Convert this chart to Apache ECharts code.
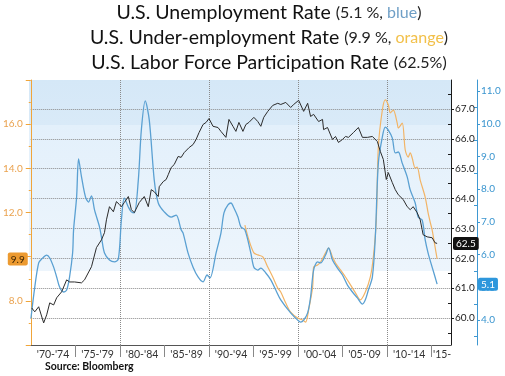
<!DOCTYPE html>
<html>
<head>
<meta charset="utf-8">
<script src="https://cdn.jsdelivr.net/npm/echarts@6/dist/echarts.min.js"></script>
<style>
html, body { margin: 0; padding: 0; background: #fff; }
#chart { width: 505px; height: 376px; }
</style>
</head>
<body>
<div id="chart"></div>
<script>
// unemployment rate, blue, outer right axis
const unempYears = [1970.02,1970.45,1970.89,1971.23,1971.79,1972.13,1972.57,1972.91,1973.24,1973.69,1974.03,1974.36,1974.70,1974.81,1975.15,1975.37,1975.70,1976.15,1976.49,1976.82,1977.16,1977.72,1977.94,1978.28,1978.84,1979.40,1979.84,1980.18,1980.51,1980.96,1981.30,1981.63,1982.08,1982.42,1982.86,1983.31,1983.87,1984.32,1984.99,1985.77,1986.33,1986.89,1987.11,1987.67,1988.23,1988.79,1989.35,1989.80,1990.13,1990.81,1991.36,1991.70,1992.15,1992.48,1992.82,1993.27,1993.60,1994.05,1994.72,1995.06,1995.50,1995.84,1996.40,1996.96,1997.52,1998.08,1999.19,1999.98,2000.31,2000.65,2001.10,2001.43,2001.77,2002.21,2002.55,2003.11,2003.45,2003.89,2004.45,2005.01,2005.57,2006.13,2006.69,2007.25,2007.58,2007.92,2008.37,2008.70,2009.04,2009.49,2009.82,2010.16,2010.60,2010.94,2011.28,2011.72,2012.28,2012.62,2013.18,2013.51,2013.96,2014.30,2014.63,2015.08,2015.41,2015.64];
const unempValues = [4.05,5.01,5.75,5.87,5.99,5.90,5.62,5.32,5.01,4.86,4.92,5.32,6.05,6.76,7.76,8.93,8.38,7.76,7.61,7.80,7.37,6.85,6.54,6.05,5.84,5.78,5.87,7.06,7.73,7.46,7.31,7.28,8.28,9.81,10.70,10.12,8.28,7.58,7.31,7.15,7.21,6.76,6.66,6.05,5.62,5.32,5.17,5.38,5.29,6.05,6.66,7.28,7.52,7.58,7.43,7.15,6.85,6.76,6.05,5.62,5.53,5.59,5.44,5.23,4.92,4.62,4.22,4.00,3.94,4.00,4.22,4.71,5.53,5.78,5.75,5.99,6.21,5.84,5.59,5.38,5.07,4.86,4.68,4.49,4.62,4.92,5.32,6.54,8.80,9.60,9.90,9.81,9.57,9.11,9.14,8.80,8.38,7.98,7.58,7.15,7.06,6.45,6.05,5.62,5.32,5.10];

// under-employment (U-6), orange, left axis
const u6Years = [1994.05,1994.50,1995.06,1995.50,1996.06,1996.62,1997.18,1997.74,1998.08,1998.64,1999.19,1999.98,2000.54,2000.87,2001.21,2001.66,2001.77,2002.21,2002.55,2003.11,2003.45,2003.89,2004.23,2004.79,2005.35,2005.91,2006.47,2007.02,2007.58,2008.14,2008.48,2008.81,2009.04,2009.49,2009.82,2010.16,2010.38,2010.72,2011.16,2011.28,2011.72,2012.06,2012.39,2012.62,2012.84,2013.18,2013.40,2013.74,2014.30,2014.63,2014.86,2015.08,2015.41,2015.64];
const u6Values = [11.43,10.76,10.17,10.08,9.99,9.53,9.08,8.58,8.40,7.90,7.49,7.22,7.13,7.04,7.59,8.63,9.53,9.62,9.76,10.17,10.39,9.99,9.71,9.40,9.08,8.72,8.36,8.04,8.40,9.08,9.99,11.66,14.97,16.64,17.10,16.87,16.51,16.64,16.05,15.83,16.05,14.83,14.51,14.70,14.47,14.02,14.06,13.47,12.70,11.98,11.57,11.21,10.44,9.90];

// labor force participation, black, inner right axis
const lfprYears = [1970.11,1970.45,1970.89,1971.45,1971.79,1972.13,1972.57,1972.91,1973.47,1974.03,1974.36,1974.92,1975.70,1976.04,1976.82,1977.38,1977.94,1978.28,1978.50,1978.84,1979.28,1979.62,1979.96,1980.18,1980.51,1980.96,1981.30,1981.63,1982.19,1982.75,1983.20,1983.53,1983.87,1984.32,1984.43,1984.88,1985.21,1985.44,1985.77,1986.11,1986.55,1986.89,1987.23,1987.79,1988.23,1988.57,1988.90,1989.35,1989.69,1990.02,1990.47,1991.03,1991.36,1991.92,1992.26,1992.71,1993.04,1993.38,1993.83,1994.16,1994.50,1995.06,1995.50,1995.84,1996.17,1996.62,1997.18,1997.74,1998.08,1998.64,1999.19,1999.53,2000.09,2000.65,2001.10,2001.43,2001.77,2002.33,2002.77,2002.89,2003.33,2003.89,2004.23,2004.56,2005.01,2005.35,2005.68,2006.24,2006.80,2007.25,2007.81,2008.37,2008.93,2009.26,2009.60,2009.93,2010.16,2010.60,2010.94,2011.28,2011.83,2012.28,2012.62,2012.95,2013.40,2013.74,2013.96,2014.07,2014.52,2015.08,2015.41,2015.64];
const lfprValues = [60.34,60.21,60.38,59.84,60.11,60.51,60.44,60.68,60.88,61.28,61.21,61.21,61.18,61.28,61.72,62.36,62.62,62.86,63.29,63.73,63.56,63.90,63.80,63.73,63.87,64.07,63.63,63.53,63.87,64.07,63.73,64.30,64.23,64.07,64.40,64.57,64.64,64.80,65.04,65.14,65.41,65.38,65.54,65.71,65.81,65.98,66.21,66.48,66.55,66.68,66.42,66.38,66.25,66.05,66.65,66.42,66.25,66.55,66.25,66.48,66.55,66.72,66.58,66.42,66.72,66.92,67.12,67.19,67.15,67.22,67.05,67.15,67.29,66.92,67.19,66.75,66.82,66.58,66.65,66.31,66.38,65.98,66.08,65.88,65.98,66.08,66.05,66.21,66.38,66.05,66.05,66.08,65.91,65.58,65.31,64.64,64.87,64.54,64.30,64.13,63.97,63.73,63.63,63.73,63.53,63.29,62.96,62.79,62.72,62.69,62.52,62.50];

// x axis: period separators and period labels
const xTickYears = [1975, 1980, 1985, 1990, 1995, 2000, 2005, 2010, 2015];
const xLabelYears = [1972.5, 1977.5, 1982.5, 1987.5, 1992.5, 1997.5, 2002.5, 2007.5, 2012.5, 2016.2];
const xLabels = ["'70-'74", "'75-'79", "'80-'84", "'85-'89", "'90-'94", "'95-'99", "'00-'04", "'05-'09", "'10-'14", "'15-"];

// y axis ticks and labels
const u6Labels = [8, 12, 14, 16];
const u6Ticks = [6, 8, 10, 12, 14, 16, 18];
const u6Minor = [7, 9, 11, 13, 15, 17];
const lfprTicks = [60, 61, 62, 63, 64, 65, 66, 67];
const lfprMinor = [59.5, 60.5, 61.5, 62.5, 63.5, 64.5, 65.5, 66.5, 67.5];
const unempTicks = [4, 5, 6, 7, 8, 9, 10, 11];
const unempMinor = [3.5, 4.5, 5.5, 6.5, 7.5, 8.5, 9.5, 10.5];

// latest readings shown as tags
const u6Last = 9.9;
const lfprLast = 62.5;
const unempLast = 5.1;

const ORANGE = '#f0a53a';
const BLUE = '#3e98d2';
const BLACK = '#1a1a1a';
const FONT = 'Lato';
const GRID_LINE = { color: '#8a8a8a', width: 1, type: 'dotted' };
const PLOT = { left: 29, top: 80, width: 422, height: 265 };

const pairs = (xs, ys) => xs.map((x, i) => [x, ys[i]]);

const chart = echarts.init(document.getElementById('chart'));

function yAxisBase(pos, offset, min, max, color) {
  return {
    type: 'value', position: pos, offset: offset, min: min, max: max,
    axisLine: { show: true, onZero: false, lineStyle: { color: color, width: 1 } },
    splitLine: { show: false },
    axisLabel: { show: false },
    axisTick: { show: false }
  };
}

function overlay(base, extra) {
  const a = Object.assign({}, base, extra);
  a.axisLine = { show: false };
  return a;
}

const u6Base = yAxisBase('left', 0, 6, 18, ORANGE);
const lfprBase = yAxisBase('right', 0, 59.1, 67.97, BLACK);
const unempBase = yAxisBase('right', 26, 3.24, 11.34, BLUE);

const labelStyle = (color) => ({ fontFamily: FONT, fontSize: 10, color: color });

const tag = (bg, fg) => ({
  t: { backgroundColor: bg, color: fg, fontFamily: FONT, fontSize: 10, padding: [2, 3, 1, 3], borderRadius: 2 }
});

chart.setOption({
  animation: false,
  graphic: [
    {
      // plot background bands
      type: 'rect', z: -10, silent: true,
      shape: { x: PLOT.left, y: PLOT.top, width: PLOT.width, height: PLOT.height },
      style: {
        fill: new echarts.graphic.LinearGradient(0, 0, 0, 1, [
          { offset: 0, color: '#d5e8f7' },
          { offset: 0.17, color: '#d9eaf8' },
          { offset: 0.171, color: '#e3f0fb' },
          { offset: 0.72, color: '#edf5fc' },
          { offset: 0.721, color: '#ffffff' },
          { offset: 1, color: '#ffffff' }
        ])
      }
    },
    {
      type: 'text', x: 269, y: 0, z: 10,
      style: {
        text: '{m|U.S. Unemployment Rate }{s|(5.1 %, }{b|blue}{s|)}\n' +
              '{m|U.S. Under-employment Rate }{s|(9.9 %, }{o|orange}{s|)}\n' +
              '{m|U.S. Labor Force Participation Rate }{s|(62.5%)}',
        align: 'center', verticalAlign: 'top',
        rich: {
          m: { fontFamily: FONT, fontSize: 19.5, fill: '#111', lineHeight: 25 },
          s: { fontFamily: FONT, fontSize: 16, fill: '#222', lineHeight: 25 },
          b: { fontFamily: FONT, fontSize: 16, fill: '#6f9fc6', lineHeight: 25 },
          o: { fontFamily: FONT, fontSize: 16, fill: '#f2c04a', lineHeight: 25 }
        }
      }
    },
    {
      type: 'text', x: 45, y: 361,
      style: { text: 'Source: Bloomberg', fontFamily: FONT, fontSize: 10.5, fontWeight: 'bold', fill: '#111' }
    }
  ],
  grid: {
    left: PLOT.left, top: PLOT.top, right: 505 - PLOT.left - PLOT.width, bottom: 376 - PLOT.top - PLOT.height,
    show: false
  },
  xAxis: [
    {
      // decade grid lines
      type: 'value', position: 'bottom', min: 1970, max: 2017.2, interval: 10,
      axisLine: { show: true, onZero: false, lineStyle: { color: '#555' } },
      axisTick: { show: false },
      axisLabel: { show: false },
      splitLine: { show: true, lineStyle: GRID_LINE }
    },
    {
      // five-year separators and period labels
      type: 'value', position: 'bottom', min: 1970, max: 2017.2,
      axisLine: { show: false },
      splitLine: { show: false },
      axisTick: { show: true, customValues: xTickYears, length: 12, lineStyle: { color: '#888' } },
      axisLabel: {
        show: true, customValues: xLabelYears, margin: 4,
        fontFamily: FONT, fontSize: 10.5, color: '#333',
        formatter: (v) => xLabels[xLabelYears.indexOf(v)]
      }
    }
  ],
  yAxis: [
    // 0 under-employment, left
    Object.assign({}, u6Base, {
      axisTick: { show: true, customValues: u6Ticks, length: 5, lineStyle: { color: ORANGE } },
      axisLabel: Object.assign({ show: true, customValues: u6Labels, margin: 8, formatter: (v) => v.toFixed(1) }, labelStyle('#eaa24e'))
    }),
    overlay(u6Base, { axisTick: { show: true, customValues: u6Minor, length: 2, lineStyle: { color: ORANGE } } }),
    overlay(u6Base, {
      axisLabel: { show: true, customValues: [u6Last], margin: 3, formatter: (v) => '{t|' + v.toFixed(1) + '}', rich: tag('#ec9a30', '#3b2300') }
    }),
    // 3 participation, right
    Object.assign({}, lfprBase, {
      splitLine: { show: true, lineStyle: GRID_LINE },
      axisTick: { show: true, customValues: lfprTicks, length: 3, lineStyle: { color: BLACK } },
      axisLabel: Object.assign({ show: true, customValues: lfprTicks, margin: 4, formatter: (v) => v.toFixed(1) }, labelStyle('#1a1a1a'))
    }),
    overlay(lfprBase, { axisTick: { show: true, inside: true, customValues: lfprMinor, length: 3, lineStyle: { color: BLACK } } }),
    overlay(lfprBase, {
      axisLabel: { show: true, customValues: [lfprLast], margin: 2, formatter: (v) => '{t|' + v.toFixed(1) + '}', rich: tag('#111', '#fff') }
    }),
    // 6 unemployment, outer right
    Object.assign({}, unempBase, {
      axisTick: { show: true, customValues: unempTicks, length: 3, lineStyle: { color: BLUE } },
      axisLabel: Object.assign({ show: true, customValues: unempTicks, margin: 4, formatter: (v) => v.toFixed(1) }, labelStyle('#3a95cf'))
    }),
    overlay(unempBase, { axisTick: { show: true, inside: true, customValues: unempMinor, length: 3, lineStyle: { color: BLUE } } }),
    overlay(unempBase, {
      axisLabel: { show: true, customValues: [unempLast], margin: 1, formatter: (v) => '{t|' + v.toFixed(1) + '}', rich: tag('#2e97dc', '#fff') }
    })
  ],
  series: [
    {
      name: 'Under-employment', type: 'line', xAxisIndex: 0, yAxisIndex: 0,
      data: pairs(u6Years, u6Values), showSymbol: false, smooth: 0.3,
      lineStyle: { color: '#f2b466', width: 1.2 }
    },
    {
      name: 'Unemployment', type: 'line', xAxisIndex: 0, yAxisIndex: 6,
      data: pairs(unempYears, unempValues), showSymbol: false, smooth: 0.3,
      lineStyle: { color: '#5aa0d2', width: 1.3 }
    },
    {
      name: 'Participation', type: 'line', xAxisIndex: 0, yAxisIndex: 3,
      data: pairs(lfprYears, lfprValues), showSymbol: false,
      lineStyle: { color: '#2b2b2b', width: 1 }
    }
  ]
});
</script>
</body>
</html>
